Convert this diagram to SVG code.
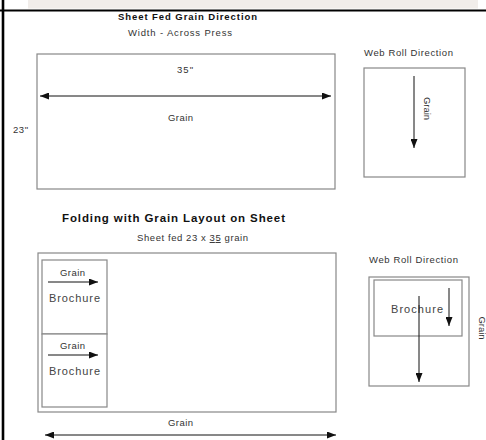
<svg xmlns="http://www.w3.org/2000/svg" width="486" height="440" viewBox="0 0 486 440">
<style>
.t{font-family:"Liberation Sans",Arial,sans-serif;font-size:9.5px;fill:#333;}
.b{font-family:"Liberation Sans",Arial,sans-serif;font-weight:bold;fill:#111;}
.br{font-family:"Liberation Sans",Arial,sans-serif;font-size:11px;fill:#444;}
.box{fill:#fff;stroke:#888;stroke-width:1.2;}
.ar{stroke:#111;stroke-width:1;fill:none;marker-end:url(#ah);}
.dar{stroke:#111;stroke-width:1;fill:none;marker-end:url(#ah);marker-start:url(#ah);}
</style>
<defs>
<marker id="ah" markerUnits="userSpaceOnUse" markerWidth="9" markerHeight="7" refX="9" refY="3.5" orient="auto-start-reverse">
<path d="M0,0 L9,3.5 L0,7 z" fill="#111"/>
</marker>
</defs>
<rect x="0" y="0" width="486" height="440" fill="#fff"/>
<rect x="28" y="0" width="450" height="8.5" fill="#f1edea"/>
<line x1="0" y1="10.5" x2="486" y2="10.5" stroke="#000" stroke-width="2.2"/>
<line x1="3" y1="0" x2="3" y2="440" stroke="#000" stroke-width="2.6"/>

<text class="b" x="118" y="20" font-size="9.5" textLength="139">Sheet Fed Grain Direction</text>
<text class="t" x="128" y="36" textLength="104">Width - Across Press</text>

<g id="sheet-fed">
<rect class="box" x="37" y="54" width="298" height="135"/>
<text class="t" x="177" y="73" textLength="16">35"</text>
<text class="t" x="168" y="121" textLength="25">Grain</text>
</g>
<text class="t" x="13" y="133" textLength="15">23"</text>

<g id="web-roll-top">
<text class="t" x="364" y="56" textLength="89">Web Roll Direction</text>
<rect class="box" x="364" y="68" width="101" height="109"/>
<text class="t" transform="translate(424,108.5) rotate(90)" text-anchor="middle">Grain</text>
</g>

<text class="b" x="62" y="222" font-size="11.5" textLength="223">Folding with Grain Layout on Sheet</text>
<text class="t" x="137" y="241" textLength="111">Sheet fed 23 x <tspan text-decoration="underline">35</tspan> grain</text>

<g id="folding-sheet">
<rect class="box" x="38" y="253" width="298" height="159"/>
</g>
<g id="brochure-1">
<rect class="box" x="42" y="260" width="65" height="74"/>
<text class="t" x="60" y="276" textLength="25">Grain</text>
<text class="br" x="49" y="302" textLength="51">Brochure</text>
</g>
<g id="brochure-2">
<rect class="box" x="42" y="334" width="65" height="73"/>
<text class="t" x="60" y="349" textLength="25">Grain</text>
<text class="br" x="49" y="375" textLength="51">Brochure</text>
</g>
<text class="t" x="168" y="426" textLength="25">Grain</text>

<g id="web-roll-bottom">
<text class="t" x="369" y="263" textLength="89">Web Roll Direction</text>
<rect class="box" x="369" y="277" width="100" height="109"/>
<rect class="box" x="374" y="280" width="88" height="56"/>
<text class="br" x="391" y="313" textLength="52">Brochure</text>
<text class="t" transform="translate(479,328) rotate(90)" text-anchor="middle">Grain</text>
</g>

<g id="connectors">
<line class="dar" x1="40" y1="96" x2="331" y2="96"/>
<line class="ar" x1="414" y1="76" x2="414" y2="148"/>
<line class="ar" x1="48" y1="282" x2="98" y2="282"/>
<line class="ar" x1="48" y1="355" x2="98" y2="355"/>
<line class="dar" x1="45" y1="435" x2="336" y2="435"/>
<line class="ar" x1="449" y1="288" x2="449" y2="326"/>
<line class="ar" x1="419" y1="296" x2="419" y2="382"/>
</g>
</svg>
